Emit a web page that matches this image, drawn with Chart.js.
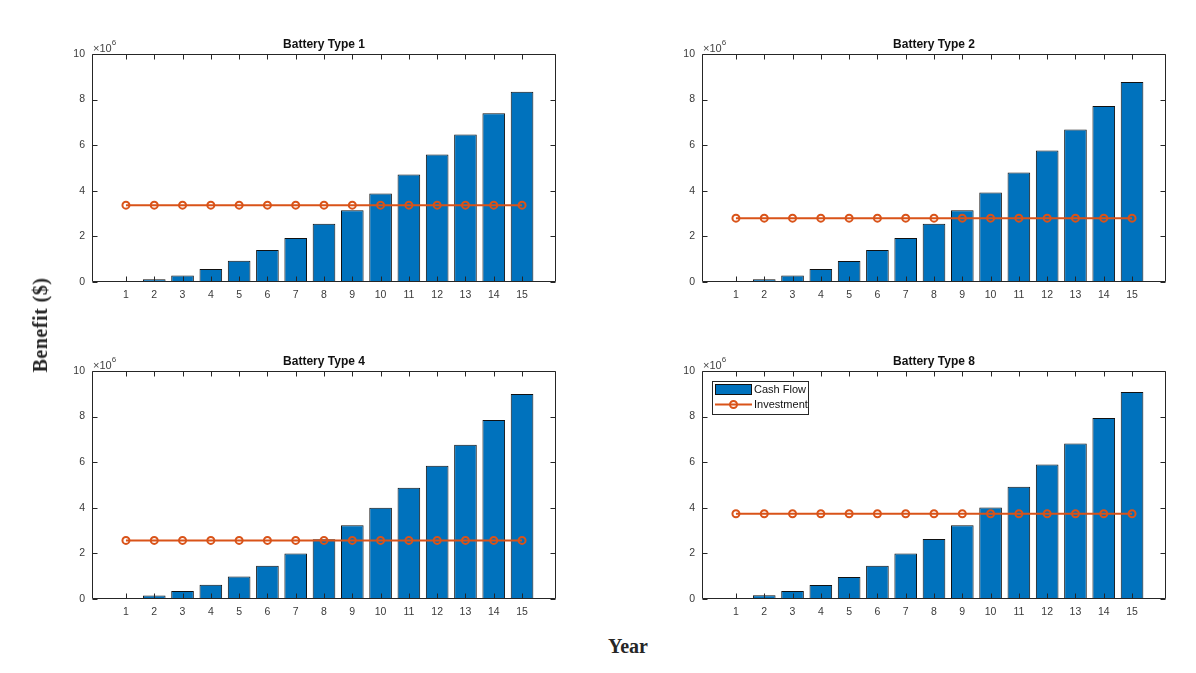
<!DOCTYPE html>
<html>
<head>
<meta charset="utf-8">
<title>Battery benefit</title>
<script src="https://cdn.jsdelivr.net/npm/chart.js@4.4.1/dist/chart.umd.min.js"></script>
<style>
  body { margin: 0; background: #fff; width: 1196px; height: 673px; position: relative; overflow: hidden; }
  canvas { position: absolute; }
  .axis-title { position: absolute; font-family: "Liberation Serif", "Times New Roman", serif; font-weight: bold; font-size: 20px; line-height: 20px; color: #262626; white-space: nowrap; }
</style>
</head>
<body>
<canvas id="bt1" width="540" height="282" style="left:40px;top:30px"></canvas>
<canvas id="bt2" width="540" height="282" style="left:650px;top:30px"></canvas>
<canvas id="bt4" width="540" height="282" style="left:40px;top:347px"></canvas>
<canvas id="bt8" width="540" height="282" style="left:650px;top:347px"></canvas>
<div class="axis-title" style="left:40px;top:325px;transform:translate(-50%,-50%) rotate(-90deg);letter-spacing:0.5px">Benefit ($)</div>
<div class="axis-title" style="left:628px;top:636px;transform:translateX(-50%)">Year</div>
<script>
// values, in $
const years = [1, 2, 3, 4, 5, 6, 7, 8, 9, 10, 11, 12, 13, 14, 15];

const cashFlow1 = [0.04e6, 0.12e6, 0.28e6, 0.57e6, 0.93e6, 1.40e6, 1.93e6, 2.55e6, 3.15e6, 3.88e6, 4.72e6, 5.59e6, 6.47e6, 7.40e6, 8.34e6];
const invest1   = [3.37e6, 3.37e6, 3.37e6, 3.37e6, 3.37e6, 3.37e6, 3.37e6, 3.37e6, 3.37e6, 3.37e6, 3.37e6, 3.37e6, 3.37e6, 3.37e6, 3.37e6];

const cashFlow2 = [0.04e6, 0.12e6, 0.28e6, 0.57e6, 0.92e6, 1.40e6, 1.93e6, 2.55e6, 3.15e6, 3.93e6, 4.80e6, 5.77e6, 6.69e6, 7.72e6, 8.77e6];
const invest2   = [2.80e6, 2.80e6, 2.80e6, 2.80e6, 2.80e6, 2.80e6, 2.80e6, 2.80e6, 2.80e6, 2.80e6, 2.80e6, 2.80e6, 2.80e6, 2.80e6, 2.80e6];

const cashFlow4 = [0.03e6, 0.15e6, 0.35e6, 0.63e6, 0.99e6, 1.46e6, 2.00e6, 2.62e6, 3.23e6, 4.00e6, 4.88e6, 5.84e6, 6.76e6, 7.85e6, 8.99e6];
const invest4   = [2.57e6, 2.57e6, 2.57e6, 2.57e6, 2.57e6, 2.57e6, 2.57e6, 2.57e6, 2.57e6, 2.57e6, 2.57e6, 2.57e6, 2.57e6, 2.57e6, 2.57e6];

const cashFlow8 = [0.04e6, 0.16e6, 0.35e6, 0.61e6, 0.96e6, 1.46e6, 2.00e6, 2.63e6, 3.23e6, 4.01e6, 4.92e6, 5.90e6, 6.82e6, 7.94e6, 9.08e6];
const invest8   = [3.74e6, 3.74e6, 3.74e6, 3.74e6, 3.74e6, 3.74e6, 3.74e6, 3.74e6, 3.74e6, 3.74e6, 3.74e6, 3.74e6, 3.74e6, 3.74e6, 3.74e6];

const BAR_BLUE = '#0072BD';
const LINE_ORANGE = '#D95319';
const AXIS_GREY = '#262626';
const SANS = '"Liberation Sans", Arial, Helvetica, sans-serif';

// box, inward ticks, title, exponent and legend drawn like a matlab axes
const matlabAxes = {
    id: 'matlabAxes',
    afterDatasetsDraw(chart, args, opts) {
        const { ctx, chartArea: a, scales: { x, y } } = chart;
        const tl = 5;
        const L = Math.round(a.left) + 0.5, R = Math.round(a.right) - 0.5;
        const T = Math.round(a.top) + 0.5, B = Math.round(a.bottom) - 0.5;
        ctx.save();
        ctx.strokeStyle = AXIS_GREY;
        ctx.lineWidth = 1;
        ctx.beginPath();
        x.ticks.forEach(t => {
            const px = Math.round(x.getPixelForValue(t.value)) + 0.5;
            ctx.moveTo(px, B); ctx.lineTo(px, B - tl);
            ctx.moveTo(px, T); ctx.lineTo(px, T + tl);
        });
        y.ticks.forEach(t => {
            const py = Math.round(y.getPixelForValue(t.value)) + 0.5;
            ctx.moveTo(L, py); ctx.lineTo(L + tl, py);
            ctx.moveTo(R, py); ctx.lineTo(R - tl, py);
        });
        ctx.rect(L, T, R - L, B - T);
        ctx.stroke();

        // title
        ctx.fillStyle = '#111';
        ctx.font = 'bold 12px ' + SANS;
        ctx.textAlign = 'center';
        ctx.textBaseline = 'alphabetic';
        ctx.fillText(opts.title, (a.left + a.right) / 2, a.top - 6);

        // x10^6 exponent
        ctx.fillStyle = '#444';
        ctx.font = '11px ' + SANS;
        ctx.textAlign = 'left';
        ctx.fillText('\u00d710', a.left + 1, a.top - 2);
        const w = ctx.measureText('\u00d710').width;
        ctx.font = '8px ' + SANS;
        ctx.fillText('6', a.left + 1 + w, a.top - 9);

        if (opts.legend) {
            const bar = chart.data.datasets.find(d => d.type === 'bar');
            const line = chart.data.datasets.find(d => d.type === 'line');
            const lx = a.left + 10, ly = a.top + 10;
            ctx.fillStyle = '#fff';
            ctx.fillRect(lx, ly, 96, 33);
            ctx.strokeStyle = AXIS_GREY;
            ctx.strokeRect(lx + 0.5, ly + 0.5, 96, 33);

            ctx.fillStyle = bar.backgroundColor;
            ctx.fillRect(lx + 3, ly + 3, 37, 11);
            ctx.strokeStyle = bar.borderColor;
            ctx.strokeRect(lx + 3.5, ly + 3.5, 36, 10);

            ctx.strokeStyle = line.borderColor;
            ctx.lineWidth = 2;
            ctx.beginPath();
            ctx.moveTo(lx + 3, ly + 23.5); ctx.lineTo(lx + 40, ly + 23.5);
            ctx.stroke();
            ctx.beginPath();
            ctx.arc(lx + 21.5, ly + 23.5, 3.5, 0, Math.PI * 2);
            ctx.stroke();

            ctx.fillStyle = '#111';
            ctx.font = '11px ' + SANS;
            ctx.textBaseline = 'middle';
            ctx.fillText(bar.label, lx + 42, ly + 9);
            ctx.fillText(line.label, lx + 42, ly + 24);
        }
        ctx.restore();
    }
};

function makeChart(id, title, cash, invest, showLegend) {
    return new Chart(document.getElementById(id), {
        type: 'bar',
        data: {
            datasets: [{
                type: 'line',
                label: 'Investment',
                data: years.map((yr, i) => ({ x: yr, y: invest[i] })),
                borderColor: LINE_ORANGE,
                borderWidth: 2,
                pointRadius: 3.5,
                pointBorderWidth: 2,
                pointBorderColor: LINE_ORANGE,
                pointBackgroundColor: 'rgba(0,0,0,0)',
                order: 0
            }, {
                type: 'bar',
                label: 'Cash Flow',
                data: years.map((yr, i) => ({ x: yr, y: cash[i] })),
                backgroundColor: BAR_BLUE,
                borderColor: '#111',
                borderWidth: 1,
                borderSkipped: false,
                barPercentage: 0.8,
                categoryPercentage: 1,
                order: 1
            }]
        },
        options: {
            responsive: false,
            animation: false,
            layout: { padding: { top: 24, right: 24, left: 0, bottom: 0 } },
            scales: {
                x: {
                    type: 'linear',
                    min: -0.2,
                    max: 16.2,
                    offset: false,
                    grid: { display: false, drawTicks: false },
                    border: { display: false },
                    afterBuildTicks: s => { s.ticks = years.map(v => ({ value: v })); },
                    afterFit: s => { s.height = 30; },
                    ticks: { padding: 7, autoSkip: false, maxRotation: 0, color: '#3a3a3a', font: { family: SANS, size: 10.5 } }
                },
                y: {
                    min: 0,
                    max: 1e7,
                    grid: { display: false, drawTicks: false },
                    border: { display: false },
                    afterFit: s => { s.width = 52; },
                    ticks: { stepSize: 2e6, padding: 7, color: '#3a3a3a', font: { family: SANS, size: 10.5 }, callback: v => v / 1e6 }
                }
            },
            plugins: {
                legend: { display: false },
                tooltip: { enabled: false },
                matlabAxes: { title: title, legend: showLegend }
            }
        },
        plugins: [matlabAxes]
    });
}

makeChart('bt1', 'Battery Type 1', cashFlow1, invest1, false);
makeChart('bt2', 'Battery Type 2', cashFlow2, invest2, false);
makeChart('bt4', 'Battery Type 4', cashFlow4, invest4, false);
makeChart('bt8', 'Battery Type 8', cashFlow8, invest8, true);
</script>
</body>
</html>
